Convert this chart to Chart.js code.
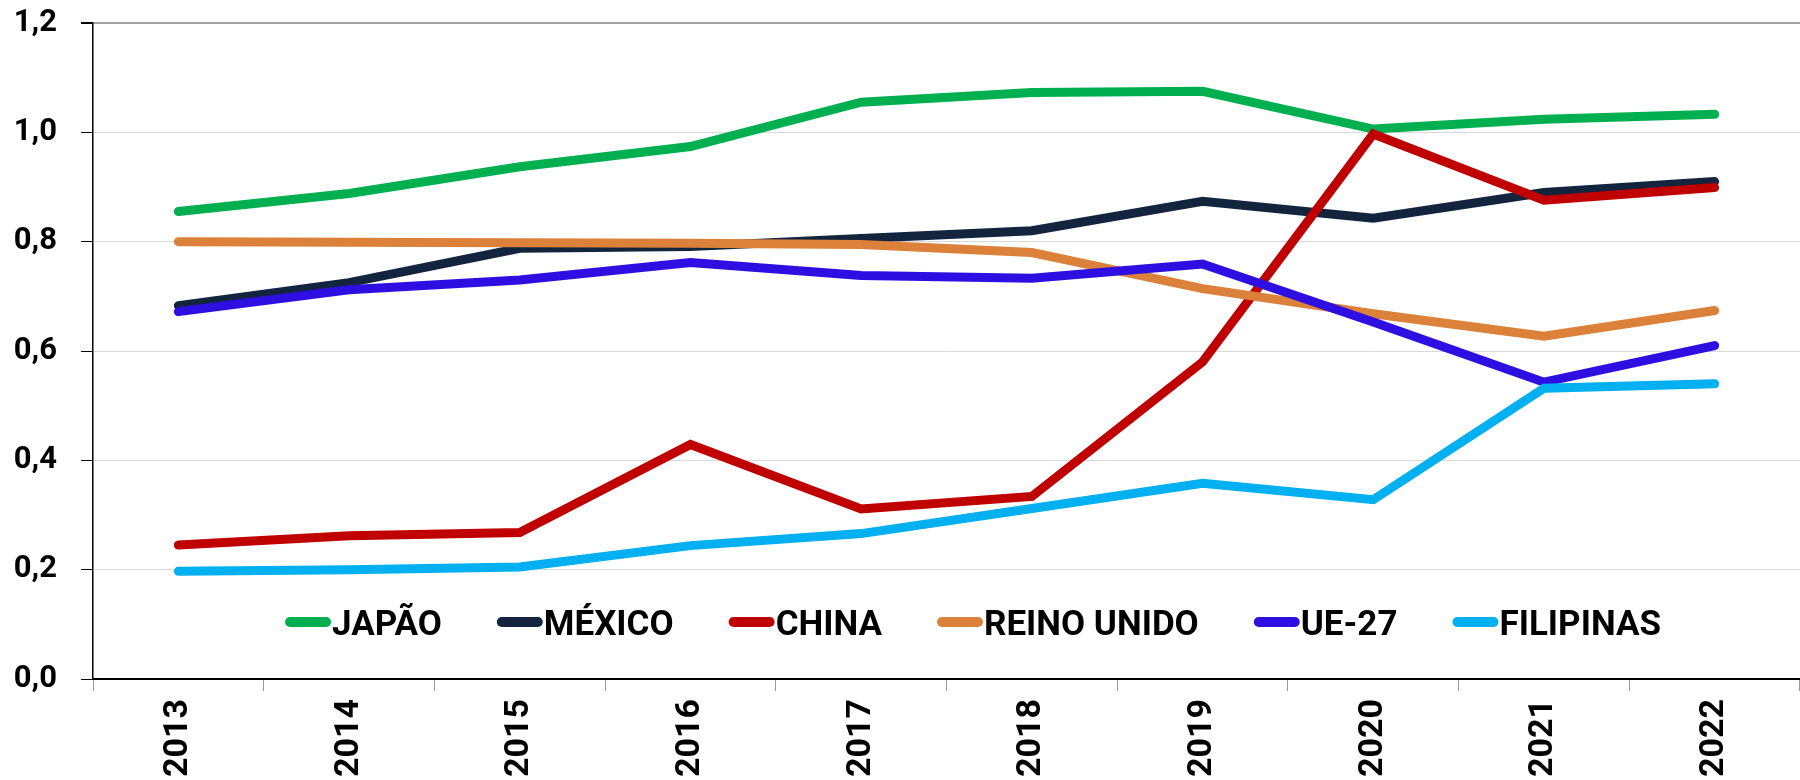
<!DOCTYPE html>
<html>
<head>
<meta charset="utf-8">
<script src="https://cdn.jsdelivr.net/npm/chart.js@4/dist/chart.umd.min.js"></script>
<style>
  body { margin: 0; background: #fff; }
  #wrap { width: 1800px; height: 780px; }
</style>
</head>
<body>
<div id="wrap"><canvas id="chart"></canvas></div>
<script>
const anos = ['2013', '2014', '2015', '2016', '2017', '2018', '2019', '2020', '2021', '2022'];

const japao      = [0.855, 0.888, 0.937, 0.974, 1.055, 1.073, 1.075, 1.006, 1.024, 1.033];
const mexico     = [0.683, 0.725, 0.788, 0.791, 0.806, 0.820, 0.874, 0.843, 0.890, 0.910];
const china      = [0.245, 0.262, 0.268, 0.429, 0.311, 0.334, 0.580, 0.997, 0.876, 0.899];
const reinoUnido = [0.800, 0.799, 0.798, 0.797, 0.795, 0.780, 0.714, 0.668, 0.627, 0.674];
const ue27       = [0.672, 0.712, 0.730, 0.762, 0.738, 0.733, 0.759, 0.653, 0.543, 0.610];
const filipinas  = [0.197, 0.200, 0.205, 0.244, 0.266, 0.312, 0.358, 0.328, 0.532, 0.540];

const yTicks = [0, 0.2, 0.4, 0.6, 0.8, 1.0, 1.2];

function serie(label, data, cor, i) {
  return {
    label: label,
    data: data,
    borderColor: cor,
    backgroundColor: cor,
    borderWidth: 9,
    borderCapStyle: 'round',
    borderJoinStyle: 'miter',
    pointRadius: 0,
    pointHoverRadius: 0,
    tension: 0,
    order: 10 - i   // later series on top, like the original
  };
}

// legend drawn inside the plot, near the bottom
const legendaDentro = {
  id: 'legendaDentro',
  afterDatasetsDraw(chart) {
    const { ctx, chartArea } = chart;
    const sw = 46, gap = 56;
    ctx.save();
    ctx.font = 'bold 35px Roboto';
    const items = chart.data.datasets.map(ds => ({
      text: ds.label,
      cor: ds.borderColor,
      w: sw + ctx.measureText(ds.label).width
    }));
    const total = items.reduce((s, it) => s + it.w, 0) + gap * (items.length - 1);
    let x = (chartArea.left + chartArea.right) / 2 + 26 - total / 2;
    const y = chartArea.bottom - 57;
    items.forEach(it => {
      ctx.strokeStyle = it.cor;
      ctx.lineWidth = 10;
      ctx.lineCap = 'round';
      ctx.beginPath();
      ctx.moveTo(x + 5, y);
      ctx.lineTo(x + sw - 5, y);
      ctx.stroke();
      ctx.fillStyle = '#000';
      ctx.textBaseline = 'alphabetic';
      ctx.textAlign = 'left';
      ctx.fillText(it.text, x + sw + 1, y + 13);
      x += it.w + gap;
    });
    ctx.restore();
  }
};

const config = {
  type: 'line',
  data: {
    labels: anos,
    datasets: [
      serie('JAPÃO', japao, '#00B050', 0),
      serie('MÉXICO', mexico, '#13243F', 1),
      serie('CHINA', china, '#C00000', 2),
      serie('REINO UNIDO', reinoUnido, '#DB8139', 3),
      serie('UE-27', ue27, '#2E0FE2', 4),
      serie('FILIPINAS', filipinas, '#00B0F0', 5)
    ]
  },
  options: {
    responsive: true,
    maintainAspectRatio: false,
    animation: false,
    layout: { padding: { top: 23, left: 0, right: -6, bottom: 0 } },
    plugins: {
      legend: { display: false },
      tooltip: { enabled: false }
    },
    scales: {
      x: {
        type: 'category',
        offset: true,
        grid: {
          offset: true,
          drawOnChartArea: false,
          tickLength: 12,
          color: '#999'
        },
        border: { color: '#000', width: 2 },
        ticks: {
          minRotation: 90,
          maxRotation: 90,
          padding: 8,
          color: '#000',
          font: { family: 'Roboto', weight: 'bold', size: 34 }
        },
        afterFit(scale) {
          scale.height = 101;
          scale.paddingLeft = 0;
          scale.paddingRight = 0;
        }
      },
      y: {
        min: 0,
        max: 1.2,
        afterBuildTicks(scale) { scale.ticks = yTicks.map(v => ({ value: v })); },
        grid: {
          tickLength: 12,
          tickColor: '#000',
          color: c => (c.tick && c.tick.value === 1.2) ? '#a0a0a0' : '#d9d9d9',
          lineWidth: c => (c.tick && c.tick.value === 1.2) ? 2 : 1
        },
        border: { color: '#000', width: 1.5 },
        ticks: {
          padding: 24,
          color: '#000',
          font: { family: 'Roboto', weight: 'bold', size: 31 },
          callback: v => v.toFixed(1).replace('.', ',')
        },
        afterFit(scale) {
          scale.width = 93;
          scale.paddingTop = 0;
          scale.paddingBottom = 0;
        }
      }
    }
  },
  plugins: [legendaDentro]
};

new Chart(document.getElementById('chart').getContext('2d'), config);
</script>
</body>
</html>
